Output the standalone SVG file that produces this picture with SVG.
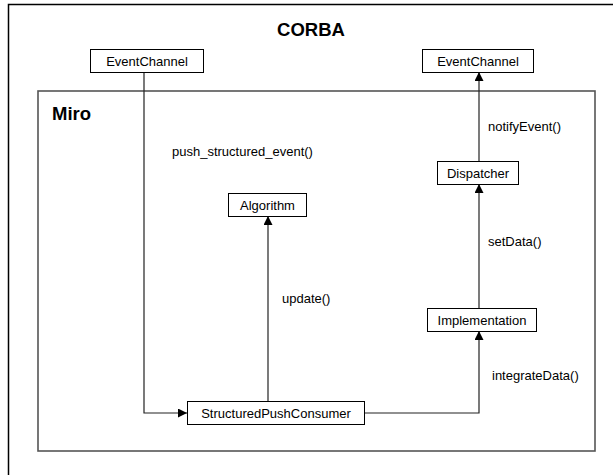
<svg xmlns="http://www.w3.org/2000/svg" width="613" height="475" viewBox="0 0 613 475">
<style>
text{font-family:"Liberation Sans",Arial,sans-serif;fill:#000}
.box{fill:#fff;stroke:#000;stroke-width:1}
.lbl{font-size:13px}
.node{font-size:13px;text-anchor:middle}
.title{font-size:18.5px;font-weight:bold}
.conn{fill:none;stroke:#222;stroke-width:1.2}
</style>
<defs>
<marker id="ah" viewBox="0 0 10 10" refX="10" refY="5" markerWidth="9" markerHeight="9" markerUnits="userSpaceOnUse" orient="auto">
<path d="M0,0 L10,5 L0,10 z" fill="#000"/>
</marker>
</defs>
<rect width="613" height="475" fill="#fff"/>
<g id="corba">
<path d="M8.5,480 V4.5 H620" fill="none" stroke="#000" stroke-width="1.5"/>
<text class="title" x="311" y="36" text-anchor="middle">CORBA</text>
</g>
<g id="miro">
<rect x="38" y="91" width="557" height="360" fill="none" stroke="#555" stroke-width="1.6"/>
<text class="title" x="52" y="120">Miro</text>
</g>
<g id="connectors">
<path class="conn" d="M144,72 V413 H187" marker-end="url(#ah)"/>
<path class="conn" d="M268,402 V216" marker-end="url(#ah)"/>
<path class="conn" d="M364,413 H479 V331" marker-end="url(#ah)"/>
<path class="conn" d="M479,309 V184" marker-end="url(#ah)"/>
<path class="conn" d="M479,162 V72" marker-end="url(#ah)"/>
<text class="lbl" x="172" y="156">push_structured_event()</text>
<text class="lbl" x="488" y="131">notifyEvent()</text>
<text class="lbl" x="488" y="246">setData()</text>
<text class="lbl" x="282" y="303">update()</text>
<text class="lbl" x="492" y="380">integrateData()</text>
</g>
<g id="ec-left"><rect class="box" x="90.5" y="49.5" width="113" height="23"/><text class="node" x="147" y="65.5">EventChannel</text></g>
<g id="ec-right"><rect class="box" x="422.5" y="49.5" width="111" height="23"/><text class="node" x="478" y="65.5">EventChannel</text></g>
<g id="dispatcher"><rect class="box" x="437.5" y="161.5" width="81" height="23"/><text class="node" x="478" y="177.5">Dispatcher</text></g>
<g id="algorithm"><rect class="box" x="228.5" y="193.5" width="78" height="23"/><text class="node" x="267.5" y="209.5">Algorithm</text></g>
<g id="implementation"><rect class="box" x="427.5" y="308.5" width="109" height="23"/><text class="node" x="482" y="324.5">Implementation</text></g>
<g id="spc"><rect class="box" x="187.5" y="401.5" width="177" height="23"/><text class="node" x="276" y="417.5">StructuredPushConsumer</text></g>
</svg>
